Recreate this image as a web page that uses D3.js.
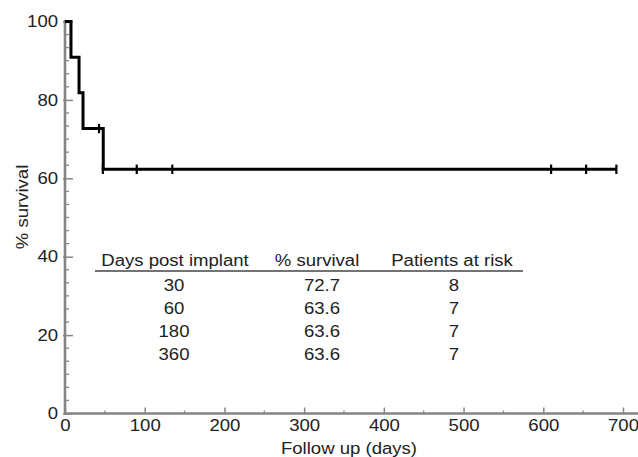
<!DOCTYPE html>
<html>
<head>
<meta charset="utf-8">
<script src="https://cdn.jsdelivr.net/npm/d3@7"></script>
<style>
  body { margin: 0; background: #fff; }
  text { font-family: "Liberation Sans", Arial, sans-serif; fill: #222; }
</style>
</head>
<body>
<script>
// Kaplan-Meier steps (day, % survival)
const stepDays = [0, 7.5, 17.6, 22.6, 48];
const stepSurvival = [100, 90.9, 81.8, 72.7, 62.3];
const lastDay = 692;

// censored observations
const censorDays = [42.7, 47.5, 90, 134.6, 609.8, 653.7, 691.7];
const censorSurvival = [72.7, 62.3, 62.3, 62.3, 62.3, 62.3, 62.3];

// inset table
const tableHeaders = ["Days post implant", "% survival", "Patients at risk"];
const tableDays = ["30", "60", "180", "360"];
const tableSurvival = ["72.7", "63.6", "63.6", "63.6"];
const tableAtRisk = ["8", "7", "7", "7"];

const xTicks = [0, 100, 200, 300, 400, 500, 600, 700];
const yTicks = [0, 20, 40, 60, 80, 100];

const width = 638, height = 457;
const fontSize = 16, stretch = 1.16;   // the original type is set wider than Arial
const axisColor = '#858585';

const x = d3.scaleLinear().domain([0, 700]).range([65, 623]);
const y = d3.scaleLinear().domain([0, 100]).range([413.5, 21.5]);

const svg = d3.select('body').append('svg')
    .attr('width', width)
    .attr('height', height);

function label(parent, tx, ty, str, anchor, rot) {
  parent.append('g')
      .attr('transform', `translate(${tx},${ty})` + (rot ? ` rotate(${rot})` : ''))
    .append('text')
      .attr('transform', `scale(${stretch},1)`)
      .attr('text-anchor', anchor || 'middle')
      .attr('font-size', fontSize)
      .text(str);
}

// y axis: minor ticks every 20/6, all ticks point into the plot
const yMinor = d3.range(1, 30).map(i => i * 20 / 6).filter((v, i) => (i + 1) % 6 !== 0);
svg.append('g')
    .selectAll('line')
    .data(yMinor)
    .enter().append('line')
    .attr('x1', x(0)).attr('x2', x(0) + 4)
    .attr('y1', d => y(d)).attr('y2', d => y(d))
    .attr('stroke', axisColor).attr('stroke-width', 1.3);

const yAxis = svg.append('g')
    .attr('transform', `translate(${x(0)},0)`)
    .call(d3.axisLeft(y).tickValues(yTicks).tickSize(-8).tickPadding(6));
yAxis.select('.domain').remove();
yAxis.selectAll('line').attr('x1', -2).attr('stroke', axisColor).attr('stroke-width', 1.5);
yAxis.selectAll('text')
    .attr('font-size', fontSize).attr('fill', '#222')
    .attr('x', -6)
    .attr('transform', `scale(${stretch},1)`);
yAxis.attr('font-family', null);

// x axis: ticks point up into the plot
const xMinor = d3.range(50, 700, 100);
svg.append('g')
    .selectAll('line')
    .data(xMinor)
    .enter().append('line')
    .attr('x1', d => x(d)).attr('x2', d => x(d))
    .attr('y1', y(0)).attr('y2', y(0) - 3)
    .attr('stroke', axisColor).attr('stroke-width', 1.3);

const xAxis = svg.append('g')
    .attr('transform', `translate(0,${y(0)})`)
    .call(d3.axisBottom(x).tickValues(xTicks).tickSize(-6).tickPadding(6));
xAxis.select('.domain').remove();
xAxis.selectAll('line').attr('stroke', axisColor).attr('stroke-width', 1.5);
xAxis.selectAll('text')
    .attr('font-size', fontSize).attr('fill', '#222')
    .attr('transform', `scale(${stretch},1)`);
xAxis.attr('font-family', null);

// axis lines
svg.append('line')
    .attr('x1', x(0)).attr('x2', x(0))
    .attr('y1', y(100) - 1.5).attr('y2', y(0) + 1)
    .attr('stroke', axisColor).attr('stroke-width', 2.6);
svg.append('line')
    .attr('x1', x(0) - 1).attr('x2', width)
    .attr('y1', y(0)).attr('y2', y(0))
    .attr('stroke', axisColor).attr('stroke-width', 2.6);

// survival curve
const curvePts = stepDays.map((d, i) => [d, stepSurvival[i]]);
curvePts.push([lastDay, stepSurvival[stepSurvival.length - 1]]);
const line = d3.line()
    .x(d => x(d[0]))
    .y(d => y(d[1]))
    .curve(d3.curveStepAfter);

svg.append('path')
    .attr('d', line(curvePts))
    .attr('fill', 'none')
    .attr('stroke', '#000')
    .attr('stroke-width', 3);

svg.append('g')
    .selectAll('line')
    .data(censorDays)
    .enter().append('line')
    .attr('x1', d => x(d)).attr('x2', d => x(d))
    .attr('y1', (d, i) => y(censorSurvival[i]) - 4.7)
    .attr('y2', (d, i) => y(censorSurvival[i]) + 4.7)
    .attr('stroke', '#000')
    .attr('stroke-width', 2.2);

// axis titles
label(svg, 349, 453.5, 'Follow up (days)');
label(svg, 28, 207, '% survival', 'middle', -90);

// inset table
const headX = [175, 317, 452];
const cellX = [174, 322, 454];
const table = svg.append('g');
tableHeaders.forEach((h, i) => label(table, headX[i], 266, h));

table.append('line')
    .attr('x1', 95).attr('x2', 523)
    .attr('y1', 271).attr('y2', 271)
    .attr('stroke', '#444').attr('stroke-width', 1.4);

tableDays.forEach((d, ri) => {
  const yy = 291 + ri * 23;
  [d, tableSurvival[ri], tableAtRisk[ri]].forEach((v, ci) => label(table, cellX[ci], yy, v));
});
</script>
</body>
</html>
